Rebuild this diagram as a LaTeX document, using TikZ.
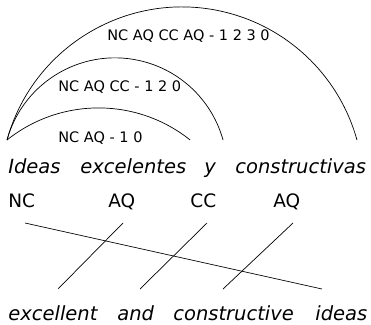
\documentclass[tikz,border=0pt]{standalone}
\usepackage{fontspec}
\setmainfont{DejaVu Sans}
\usepackage{tikz}
\usepackage{xcolor}

\begin{document}
\begin{tikzpicture}[x=1pt,y=1pt,line width=0.7pt,
    word/.style={anchor=base west,inner sep=0pt,font=\fontsize{19.5}{23}\selectfont\itshape},
    tag/.style={anchor=base west,inner sep=0pt,font=\fontsize{18.5}{22}\selectfont},
    arclabel/.style={anchor=base west,inner sep=0pt,font=\fontsize{14.5}{17}\selectfont}]
    \useasboundingbox (0,0) rectangle (371,324);
    \coordinate (root) at (7,184);
    % arcs over the spanish phrase
    \draw (root) arc[start angle=128.6,end angle=51.4,radius=146.8];
    \draw (root) arc[start angle=164.5,end angle=15.5,radius=112.1];
    \draw (root) arc[start angle=164.5,end angle=15.5,radius=181.6];
    \node[arclabel] (l1) at (58,182) {NC AQ - 1 0};
    \node[arclabel] (l2) at (58,232) {NC AQ CC - 1 2 0};
    \node[arclabel] (l3) at (107,283) {NC AQ CC AQ - 1 2 3 0};
    % source words and tags
    \node[word] (ideas) at (8,150) {Ideas};
    \node[word] (excelentes) at (80,150) {excelentes};
    \node[word] (y) at (204,150) {y};
    \node[word] (constructivas) at (235,150) {constructivas};
    \node[tag] (nc) at (8,117) {NC};
    \node[tag] (aq1) at (108,117) {AQ};
    \node[tag] (cc) at (190,117) {CC};
    \node[tag] (aq2) at (273,117) {AQ};
    % target words
    \node[word] (excellent) at (8,4) {excellent};
    \node[word] (and) at (117,4) {and};
    \node[word] (constructive) at (173,4) {constructive};
    \node[word] (ideas2) at (315,4) {ideas};
    % alignment
    \coordinate (a1) at (25,101);
    \coordinate (a2) at (123,101);
    \coordinate (a3) at (207,101);
    \coordinate (a4) at (293,101);
    \coordinate (b1) at (58,35);
    \coordinate (b2) at (140,35);
    \coordinate (b3) at (223,35);
    \coordinate (b4) at (322,35);
    \draw (a1)--(b4);
    \draw (a2)--(b1);
    \draw (a3)--(b2);
    \draw (a4)--(b3);
  \end{tikzpicture}
\end{document}
